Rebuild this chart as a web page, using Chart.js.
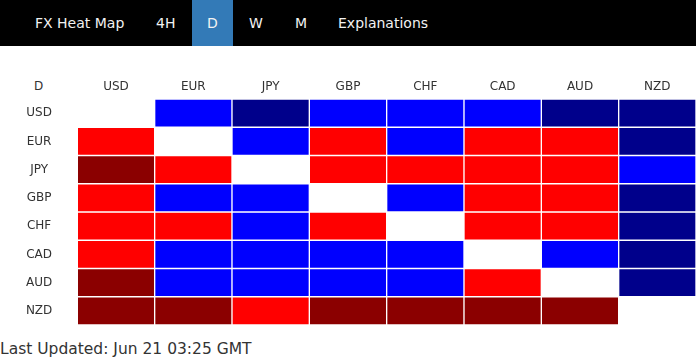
<!DOCTYPE html>
<html>
<head>
<meta charset="utf-8">
<title>FX Heat Map</title>
<script src="https://cdn.jsdelivr.net/npm/chart.js@4.4.1/dist/chart.umd.min.js"></script>
<style>
    body { margin: 0; background: #fff; font-family: "DejaVu Sans", Verdana, sans-serif; }
    .navbar { position: absolute; left: 0; top: 0; width: 696px; height: 46px; background: #000; }
    .navbar span { position: absolute; top: 0; height: 46px; line-height: 46px; font-size: 14px; color: #f2f2f2; white-space: nowrap; }
    .navbar .active { background: #337ab7; width: 41px; text-align: center; }
    .corner { position: absolute; left: 0; top: 77px; width: 77px; text-align: center; font-size: 12px; line-height: 18px; color: #333; }
    .chart-box { position: absolute; left: 0; top: 46px; width: 696px; height: 279px; }
    .updated { position: absolute; left: 0; top: 340px; font-size: 15.5px; line-height: 18px; color: #333; white-space: nowrap; }
</style>
</head>
<body>
<div class="navbar">
    <span style="left:35px">FX Heat Map</span>
    <span style="left:156px">4H</span>
    <span class="active" style="left:192px">D</span>
    <span style="left:249px">W</span>
    <span style="left:295px">M</span>
    <span style="left:338px">Explanations</span>
</div>
<div class="corner">D</div>
<div class="chart-box"><canvas id="heatMap"></canvas></div>
<div class="updated">Last Updated: Jun 21 03:25 GMT</div>

<script>
// Currencies (rows = base, columns = quote)
const currencies = ['USD', 'EUR', 'JPY', 'GBP', 'CHF', 'CAD', 'AUD', 'NZD'];

// Strength levels: -2 strong down, -1 down, 0 same pair, 1 up, 2 strong up
const usdRow = [0, 1, 2, 1, 1, 1, 2, 2];
const eurRow = [-1, 0, 1, -1, 1, -1, -1, 2];
const jpyRow = [-2, -1, 0, -1, -1, -1, -1, 1];
const gbpRow = [-1, 1, 1, 0, 1, -1, -1, 2];
const chfRow = [-1, -1, 1, -1, 0, -1, -1, 2];
const cadRow = [-1, 1, 1, 1, 1, 0, 1, 2];
const audRow = [-2, 1, 1, 1, 1, -1, 0, 2];
const nzdRow = [-2, -2, -1, -2, -2, -2, -2, 0];

const levelRows = [usdRow, eurRow, jpyRow, gbpRow, chfRow, cadRow, audRow, nzdRow];

const levelColors = {
    '-2': '#8b0000',
    '-1': '#ff0000',
    '0': '#ffffff',
    '1': '#0000ff',
    '2': '#00008b'
};

document.addEventListener('DOMContentLoaded', function() {
    // One dataset per row, each cell is a floating bar spanning that row
    const datasets = levelRows.map(function(row, r) {
        return {
            label: currencies[r],
            data: row.map(level => level === 0 ? null : [r, r + 1]),
            backgroundColor: row.map(level => levelColors[level]),
            borderColor: '#ffffff',
            borderWidth: 1,
            borderSkipped: false,
            grouped: false,
            barPercentage: 1,
            categoryPercentage: 1
        };
    });

    const ctx = document.getElementById('heatMap').getContext('2d');
    new Chart(ctx, {
        type: 'bar',
        data: {
            labels: currencies,
            datasets: datasets
        },
        options: {
            responsive: true,
            maintainAspectRatio: false,
            animation: false,
            layout: { padding: 0 },
            plugins: {
                legend: { display: false },
                tooltip: { enabled: false }
            },
            scales: {
                x: {
                    type: 'category',
                    position: 'top',
                    grid: { display: false, drawTicks: false },
                    border: { display: false },
                    ticks: {
                        color: '#333',
                        padding: 5,
                        maxRotation: 0,
                        font: { family: 'DejaVu Sans', size: 12 }
                    },
                    afterFit: function(scale) { scale.height = 53; }
                },
                y: {
                    type: 'linear',
                    min: 0,
                    max: 8,
                    reverse: true,
                    grid: { display: false, drawTicks: false },
                    border: { display: false },
                    afterBuildTicks: function(scale) {
                        scale.ticks = currencies.map((c, i) => ({ value: i + 0.5 }));
                    },
                    ticks: {
                        color: '#333',
                        crossAlign: 'center',
                        padding: 25,
                        font: { family: 'DejaVu Sans', size: 12 },
                        callback: value => currencies[Math.floor(value)]
                    },
                    afterFit: function(scale) {
                        scale.width = 77.33;
                        scale.paddingTop = 0;
                        scale.paddingBottom = 0;
                    }
                }
            }
        }
    });
});
</script>
</body>
</html>
